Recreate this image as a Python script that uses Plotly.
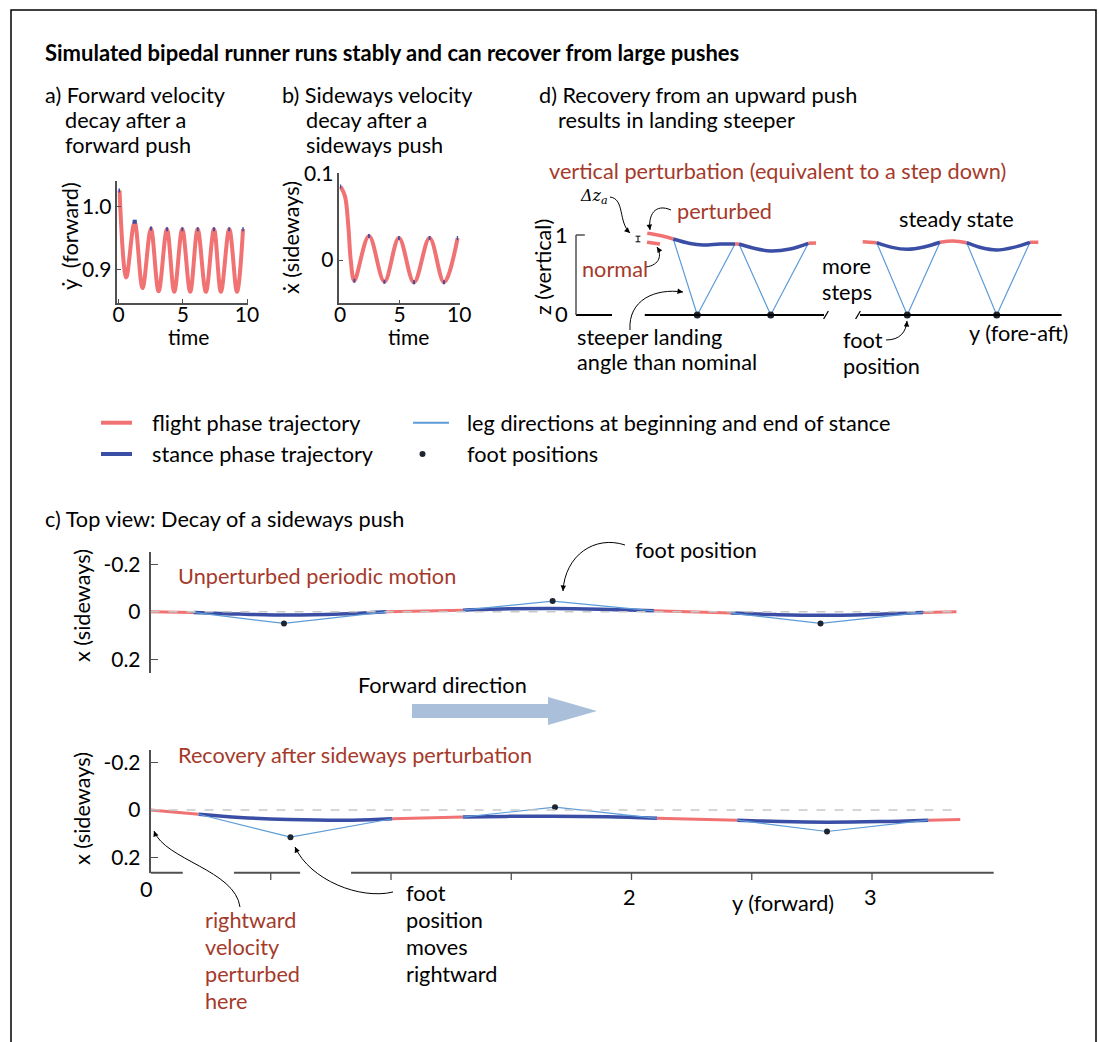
import plotly.graph_objects as go

W, H = 1099, 1042
FONT = "Lato"
RED = "#f07272"
BLUE = "#3a4ea5"
LEG = "#5d9cd8"
FOOT = "#1e2530"
TXTRED = "#a53a2b"
AXC = "#505050"
FS = 21.7

# ---------------- data ----------------
# (a) forward velocity vs time (extrema)
a_t = [0.08, 0.6, 1.25, 1.87, 2.52, 3.12, 3.77, 4.34, 4.96, 5.58, 6.16, 6.8, 7.43, 7.97, 8.62, 9.22, 9.69]
a_v = [1.026, 0.887, 0.976, 0.870, 0.965, 0.865, 0.964, 0.864, 0.964, 0.864, 0.964, 0.864, 0.964, 0.864, 0.964, 0.864, 0.964]
a_st_t0 = [0.0, 1.1, 2.45, 3.7, 4.9, 6.1, 7.35, 8.55, 9.63]
a_st_t1 = [0.12, 1.42, 2.6, 3.85, 5.04, 6.24, 7.5, 8.68, 9.75]
a_st_v = [1.026, 0.976, 0.965, 0.964, 0.964, 0.964, 0.964, 0.964, 0.964]
a_xticks = [0, 5, 10]
a_yticks = [0.9, 1.0]
a_ylabels = ["0.9", "1.0"]

# (b) sideways velocity vs time
b_t = [0.05, 0.42, 0.7, 0.9, 1.2, 2.43, 3.72, 4.94, 6.2, 7.51, 8.72, 9.86]
b_v = [0.0855, 0.074, 0.039, 0.0, -0.024, 0.0279, -0.0252, 0.0255, -0.026, 0.0255, -0.026, 0.0255]
b_st_t0 = [0.0, 1.13, 2.35, 3.64, 4.87, 6.12, 7.44, 8.64, 9.79]
b_st_t1 = [0.1, 1.28, 2.5, 3.8, 5.01, 6.28, 7.58, 8.8, 9.9]
b_st_v = [0.0855, -0.024, 0.0279, -0.0252, 0.0255, -0.026, 0.0255, -0.026, 0.0255]
b_xticks = [0, 5, 10]
b_yticks = [0, 0.1]
b_ylabels = ["0", "0.1"]

# (d) side view: fore-aft position u, height z
d_pert_u = [0.891, 1.05, 1.216]
d_pert_z = [1.021, 0.994, 0.95]
d_norm_u = [0.888, 1.05]
d_norm_z = [0.909, 0.888]
d_flight_u = [[1.9875, 2.0375], [2.904, 3.0], [3.584, 3.759], [4.55, 4.7125, 4.884], [5.675, 5.779]]
d_flight_z = [[0.8875, 0.8875], [0.896, 0.9], [0.916, 0.904], [0.909, 0.925, 0.904], [0.909, 0.909]]
d_stance_u = [[1.216, 1.425, 1.5875, 1.8, 1.9875], [2.0375, 2.2375, 2.434, 2.675, 2.904],
              [3.759, 3.95, 4.141, 4.35, 4.55], [4.884, 5.07, 5.259, 5.47, 5.675]]
d_stance_z = [[0.95, 0.894, 0.875, 0.8875, 0.8875], [0.8875, 0.831, 0.8, 0.825, 0.896],
              [0.904, 0.845, 0.821, 0.85, 0.909], [0.904, 0.84, 0.8125, 0.845, 0.909]]
d_leg_u = [[1.216, 1.516, 1.9875], [2.0375, 2.434, 2.904], [3.759, 4.141, 4.55], [4.884, 5.259, 5.675]]
d_leg_z = [[0.95, 0.0, 0.8875], [0.8875, 0.0, 0.896], [0.904, 0.0, 0.909], [0.904, 0.0, 0.909]]
d_foot_u = [1.516, 2.434, 4.141, 5.259]
d_foot_z = [0, 0, 0, 0]
d_ground = [(0.0, 0.45), (0.86, 3.1), (3.55, 6.07)]
d_breaks = [3.125, 3.525]

# (c) top view: forward position y, sideways x  (top: unperturbed, bottom: recovery)
ct_flight_y = [[0.0, 0.179], [0.981, 1.299], [2.093, 2.413], [3.212, 3.351]]
ct_flight_x = [[0.0, 0.0025], [0.0, -0.007], [-0.004, 0.0055], [0.0025, 0.0]]
ct_stance_y = [[0.179, 0.372, 0.574, 0.788, 0.981], [1.299, 1.495, 1.67, 1.869, 2.093],
               [2.413, 2.597, 2.786, 2.992, 3.212]]
ct_stance_x = [[0.0025, 0.0097, 0.0139, 0.0097, 0.0], [-0.007, -0.0126, -0.014, -0.011, -0.004],
               [0.0055, 0.0118, 0.015, 0.011, 0.0025]]
ct_foot_y = [0.555, 1.672, 2.786]
ct_foot_x = [0.049, -0.045, 0.049]

cb_flight_y = [[0.0, 0.2], [1.005, 1.299], [2.106, 2.44], [3.234, 3.367]]
cb_flight_x = [[0.0, 0.0178], [0.037, 0.030], [0.035, 0.043], [0.043, 0.040]]
cb_stance_y = [[0.2, 0.372, 0.574, 0.84, 1.005], [1.299, 1.48, 1.667, 1.9, 2.106],
               [2.44, 2.62, 2.813, 3.03, 3.234]]
cb_stance_x = [[0.0178, 0.0317, 0.040, 0.043, 0.037], [0.030, 0.027, 0.026, 0.029, 0.035],
               [0.043, 0.049, 0.0516, 0.049, 0.043]]
cb_foot_y = [0.582, 1.682, 2.813]
cb_foot_x = [0.115, -0.012, 0.091]
c_yticks = [-0.2, 0, 0.2]
c_ylabels = ["-0.2", "0", "0.2"]
c_xticks = [0.5, 1.0, 1.5, 2.0, 2.5, 3.0]
c_xlabel_vals = [0, 2, 3]
c_xlabel_text = ["0", "2", "3"]
c_axis_segments = [(0.0, 0.134), (0.347, 0.622), (0.834, 3.506)]
c_zero_end = 3.35


# ---------------- helpers ----------------
def PX(x):
    return x / W


def PY(y):
    return 1 - y / H


def rng(p0, p1, va, pa, vb, pb):
    s = (vb - va) / (pb - pa)
    return [va + (p0 - pa) * s, va + (p1 - pa) * s]


fig = go.Figure()
shapes = []
ann = []


def line(xs, ys, color, width, ax, ay, spline=True, dash=None):
    fig.add_trace(go.Scatter(x=xs, y=ys, mode="lines", xaxis=ax, yaxis=ay,
                             line=dict(color=color, width=width, shape="spline" if spline else "linear",
                                       smoothing=1.0, dash=dash),
                             hoverinfo="skip", showlegend=False))


def dots(xs, ys, ax, ay, size=7):
    fig.add_trace(go.Scatter(x=xs, y=ys, mode="markers", xaxis=ax, yaxis=ay,
                             marker=dict(color=FOOT, size=size), hoverinfo="skip", showlegend=False))


def txt(s, x, y, size=FS, color="black", anchor="left", angle=0, family=FONT):
    ann.append(dict(text=s, x=PX(x), y=PY(y), xref="paper", yref="paper", xanchor=anchor,
                    yanchor="middle", showarrow=False, textangle=angle,
                    font=dict(family=family, size=size, color=color)))


def curved_arrow(p0, c1, c2, p1):
    path = "M {},{} C {},{} {},{} {},{}".format(PX(p0[0]), PY(p0[1]), PX(c1[0]), PY(c1[1]),
                                              PX(c2[0]), PY(c2[1]), PX(p1[0]), PY(p1[1]))
    shapes.append(dict(type="path", path=path, xref="paper", yref="paper",
                       line=dict(color="black", width=1)))
    dx, dy = c2[0] - p1[0], c2[1] - p1[1]
    n = (dx * dx + dy * dy) ** 0.5
    ann.append(dict(text="", x=PX(p1[0]), y=PY(p1[1]), xref="paper", yref="paper",
                    ax=dx / n * 7, ay=dy / n * 7, showarrow=True, arrowhead=2, arrowsize=1.1,
                    arrowwidth=1, arrowcolor="black", standoff=0))


# ---------------- panel a ----------------
line(a_t, a_v, RED, 4, "x", "y")
for t0, t1, v in zip(a_st_t0, a_st_t1, a_st_v):
    line([t0, t1], [v, v], BLUE, 4, "x", "y", spline=False)

# ---------------- panel b ----------------
line(b_t, b_v, RED, 4, "x2", "y2")
for t0, t1, v in zip(b_st_t0, b_st_t1, b_st_v):
    line([t0, t1], [v, v], BLUE, 4, "x2", "y2", spline=False)

# ---------------- panel d ----------------
for us, zs in zip(d_leg_u, d_leg_z):
    line(us, zs, LEG, 1.2, "x3", "y3", spline=False)
line(d_pert_u, d_pert_z, RED, 3.5, "x3", "y3")
line(d_norm_u, d_norm_z, RED, 3.5, "x3", "y3")
for us, zs in zip(d_flight_u, d_flight_z):
    line(us, zs, RED, 3.5, "x3", "y3")
for us, zs in zip(d_stance_u, d_stance_z):
    line(us, zs, BLUE, 3.5, "x3", "y3")
dots(d_foot_u, d_foot_z, "x3", "y3")
for g0, g1 in d_ground:
    shapes.append(dict(type="line", xref="x3", yref="y3", x0=g0, x1=g1, y0=0, y1=0,
                       line=dict(color="black", width=2)))
for b in d_breaks:
    shapes.append(dict(type="line", xref="x3", yref="y3", x0=b - 0.03, x1=b + 0.03, y0=-0.05, y1=0.05,
                       line=dict(color="black", width=1.3)))
shapes.append(dict(type="line", xref="x3", yref="y3", x0=0, x1=0, y0=0, y1=1,
                   line=dict(color=AXC, width=1.5)))
shapes.append(dict(type="line", xref="x3", yref="y3", x0=0, x1=0.11, y0=1, y1=1,
                   line=dict(color=AXC, width=1.5)))
# delta z bar
shapes.append(dict(type="line", xref="x3", yref="y3", x0=0.775, x1=0.775, y0=0.915, y1=0.985,
                   line=dict(color="black", width=1)))
for zz in (0.915, 0.985):
    shapes.append(dict(type="line", xref="x3", yref="y3", x0=0.745, x1=0.805, y0=zz, y1=zz,
                       line=dict(color="black", width=1)))

# ---------------- panel c ----------------
for ax, ay in (("x4", "y4"), ("x5", "y5")):
    shapes.append(dict(type="line", xref=ax, yref=ay, x0=0, x1=c_zero_end, y0=0, y1=0,
                       line=dict(color="#c8c8c8", width=1.5, dash="dash")))
for ys, xs in zip(ct_flight_y, ct_flight_x):
    line(ys, xs, RED, 3, "x4", "y4")
for ys, xs in zip(ct_stance_y, ct_stance_x):
    line(ys, xs, BLUE, 3.5, "x4", "y4")
for i in range(3):
    line([ct_stance_y[i][0], ct_foot_y[i], ct_stance_y[i][-1]],
         [ct_stance_x[i][0], ct_foot_x[i], ct_stance_x[i][-1]], LEG, 1.2, "x4", "y4", spline=False)
dots(ct_foot_y, ct_foot_x, "x4", "y4", 6)

for ys, xs in zip(cb_flight_y, cb_flight_x):
    line(ys, xs, RED, 3, "x5", "y5")
for ys, xs in zip(cb_stance_y, cb_stance_x):
    line(ys, xs, BLUE, 3.5, "x5", "y5")
for i in range(3):
    line([cb_stance_y[i][0], cb_foot_y[i], cb_stance_y[i][-1]],
         [cb_stance_x[i][0], cb_foot_x[i], cb_stance_x[i][-1]], LEG, 1.2, "x5", "y5", spline=False)
dots(cb_foot_y, cb_foot_x, "x5", "y5", 6)
for s0, s1 in c_axis_segments:
    shapes.append(dict(type="line", xref="x5", yref="y5 domain", x0=s0, x1=s1, y0=0, y1=0,
                       line=dict(color=AXC, width=2)))
for tv in c_xticks:
    shapes.append(dict(type="line", xref="x5", yref="paper", x0=tv, x1=tv, y0=PY(873), y1=PY(880),
                       line=dict(color=AXC, width=1.3)))
c_label_y = [889, 897, 897]
for v, s, yy in zip(c_xlabel_vals, c_xlabel_text, c_label_y):
    ann.append(dict(text=s, x=v, y=PY(yy), xref="x5", yref="paper", xanchor="center", yanchor="middle",
                    showarrow=False, font=dict(family=FONT, size=FS, color="black"),
                    xshift=-4 if v == 0 else -2))

# ---------------- axes ----------------
ax_common = dict(showgrid=False, zeroline=False, showline=True, linecolor=AXC, linewidth=1.5,
                 ticks="inside", tickcolor=AXC, automargin=False,
                 tickfont=dict(family=FONT, size=21, color="black"))
ca_x = rng(117.3, 248, 0, 118.5, 10, 247)
ca_y = rng(302.7, 180.7, 1.0, 206.7, 0.9, 269.3)
cb_x = rng(339.3, 460, 0, 340, 10, 459.3)
cb_y = rng(303.3, 173.3, 0.1, 174, 0, 260)
d_x = rng(560, 1080, 0, 576, 1, 656)
d_y = rng(335, 195, 0, 315, 1, 235)
c_x = rng(150.5, 1000, 0, 150.5, 1, 391)
ct_y = rng(673, 551.7, -0.2, 564.3, 0.2, 659.3)
cb2_y = rng(872.7, 750, -0.2, 762.7, 0.2, 857.3)

c_ax = dict(ax_common, tickfont=dict(family=FONT, size=21, color="black"))
layout = dict(
    width=W, height=H, margin=dict(l=0, r=0, t=0, b=0, pad=0, autoexpand=False),
    paper_bgcolor="white", plot_bgcolor="rgba(0,0,0,0)",
    showlegend=False,
    xaxis=dict(domain=[PX(117.3), PX(248)], range=ca_x, anchor="y", tickvals=a_xticks, ticklen=4,
               ticklabelstandoff=-8, **ax_common),
    yaxis=dict(domain=[PY(302.7), PY(180.7)], range=ca_y, anchor="x", tickvals=a_yticks, ticktext=a_ylabels,
               ticklen=4, ticklabelstandoff=0, **ax_common),
    xaxis2=dict(domain=[PX(339.3), PX(460)], range=cb_x, anchor="y2", tickvals=b_xticks, ticklen=4,
                ticklabelstandoff=-8, **ax_common),
    yaxis2=dict(domain=[PY(303.3), PY(173.3)], range=cb_y, anchor="x2", tickvals=b_yticks, ticktext=b_ylabels,
                ticklen=4, ticklabelstandoff=0, **ax_common),
    xaxis3=dict(domain=[PX(560), PX(1080)], range=d_x, anchor="y3", visible=False, automargin=False),
    yaxis3=dict(domain=[PY(335), PY(195)], range=d_y, anchor="x3", visible=False, automargin=False),
    xaxis4=dict(domain=[PX(150.5), PX(1000)], range=c_x, anchor="y4", visible=False, automargin=False),
    yaxis4=dict(domain=[PY(673), PY(551.7)], range=ct_y, anchor="x4", tickvals=c_yticks, ticktext=c_ylabels,
                ticklen=8, ticklabelstandoff=4, **c_ax),
    xaxis5=dict(domain=[PX(150.5), PX(1000)], range=c_x, anchor="y5", visible=False, automargin=False),
    yaxis5=dict(domain=[PY(872.7), PY(750)], range=cb2_y, anchor="x5", tickvals=c_yticks, ticktext=c_ylabels,
                ticklen=8, ticklabelstandoff=4, **c_ax),
)

# ---------------- frame, legend, decorations ----------------
shapes.append(dict(type="rect", xref="paper", yref="paper", x0=PX(11), x1=PX(1096), y0=PY(1060), y1=PY(10),
                   line=dict(color="black", width=1.5)))
# legend
shapes.append(dict(type="line", xref="paper", yref="paper", x0=PX(101), x1=PX(132), y0=PY(422.7), y1=PY(422.7),
                   line=dict(color=RED, width=4)))
shapes.append(dict(type="line", xref="paper", yref="paper", x0=PX(101), x1=PX(132), y0=PY(454), y1=PY(454),
                   line=dict(color=BLUE, width=4)))
shapes.append(dict(type="line", xref="paper", yref="paper", x0=PX(413), x1=PX(449), y0=PY(422.7), y1=PY(422.7),
                   line=dict(color=LEG, width=2)))
shapes.append(dict(type="circle", xref="paper", yref="paper", x0=PX(419.5), x1=PX(425.5), y0=PY(457), y1=PY(451),
                   fillcolor=FOOT, line=dict(color=FOOT, width=0)))
txt("flight phase trajectory", 150, 422.7)
txt("stance phase trajectory", 150, 454)
txt("leg directions at beginning and end of stance", 465, 422.7)
txt("foot positions", 465, 454)

# forward direction arrow
fw = [(412, 704), (548, 704), (548, 697), (597, 711), (548, 725), (548, 718), (412, 718)]
path = "M " + " L ".join("{},{}".format(PX(x), PY(y)) for x, y in fw) + " Z"
shapes.append(dict(type="path", path=path, xref="paper", yref="paper", fillcolor="#a9bfda",
                   line=dict(color="#a9bfda", width=0)))
txt("Forward direction", 356, 685)

# titles / texts
txt("<b>Simulated bipedal runner runs stably and can recover from large pushes</b>", 43, 52, size=22)
txt("a) Forward velocity", 43, 95)
txt("decay after a", 63, 120)
txt("forward push", 63, 145)
txt("b) Sideways velocity", 280, 95)
txt("decay after a", 304, 120)
txt("sideways push", 304, 145)
txt("d) Recovery from an upward push", 537, 95)
txt("results in landing steeper", 556, 120)
txt("ẏ  (forward)", 70, 236, anchor="center", angle=-90)
txt("time", 188, 336, size=21, anchor="center")
txt("ẋ (sideways)", 291, 237, anchor="center", angle=-90)
txt("time", 408, 336, size=21, anchor="center")

txt("vertical perturbation (equivalent to a step down)", 547, 171, color=TXTRED)
txt("<i>Δz</i><sub><i>a</i></sub>", 578, 196, size=16, family="DejaVu Serif")
txt("perturbed", 675, 211, color=TXTRED)
txt("normal", 580, 269, color=TXTRED)
txt("steady state", 897, 219)
txt("more", 820, 266)
txt("steps", 820, 292)
txt("1", 570, 235, size=22, anchor="right")
txt("0", 570, 314, size=22, anchor="right")
txt("z (vertical)", 543, 267, anchor="center", angle=-90)
txt("steeper landing", 575, 337)
txt("angle than nominal", 575, 362)
txt("foot", 841, 340)
txt("position", 841, 366)
txt("y (fore-aft)", 967, 333)

txt("c) Top view: Decay of a sideways push", 43, 519)
txt("x (sideways)", 82, 606, anchor="center", angle=-90)
txt("x (sideways)", 82, 809, anchor="center", angle=-90)
txt("Unperturbed periodic motion", 176, 576, color=TXTRED)
txt("foot position", 633, 550)
txt("Recovery after sideways perturbation", 176, 755, color=TXTRED)
txt("y (forward)", 730, 903)
for i, s in enumerate(["rightward", "velocity", "perturbed", "here"]):
    txt(s, 203, 920 + 27 * i, color=TXTRED)
for i, s in enumerate(["foot", "position", "moves", "rightward"]):
    txt(s, 404, 893 + 27 * i)

# curved arrows
curved_arrow((625, 545), (595, 535), (565, 555), (563, 591))
curved_arrow((240, 907), (235, 870), (165, 860), (154, 831))
curved_arrow((393, 892), (360, 900), (310, 880), (295, 847))
curved_arrow((610, 197), (625, 199), (618, 222), (630, 233))
curved_arrow((671, 210), (655, 203), (648, 215), (650, 230))
curved_arrow((646, 267), (660, 265), (662, 255), (657, 247))
curved_arrow((630, 330), (628, 300), (655, 288), (683, 292))
curved_arrow((886, 340), (900, 340), (906, 332), (907, 321))

layout["shapes"] = shapes
layout["annotations"] = ann
fig.update_layout(**layout)

fig.write_html("out.html", config={"displayModeBar": False},
               post_script="document.body.style.margin='0';document.body.style.overflow='hidden';"
                           "document.documentElement.style.overflow='hidden';window.scrollTo(0,0);")
